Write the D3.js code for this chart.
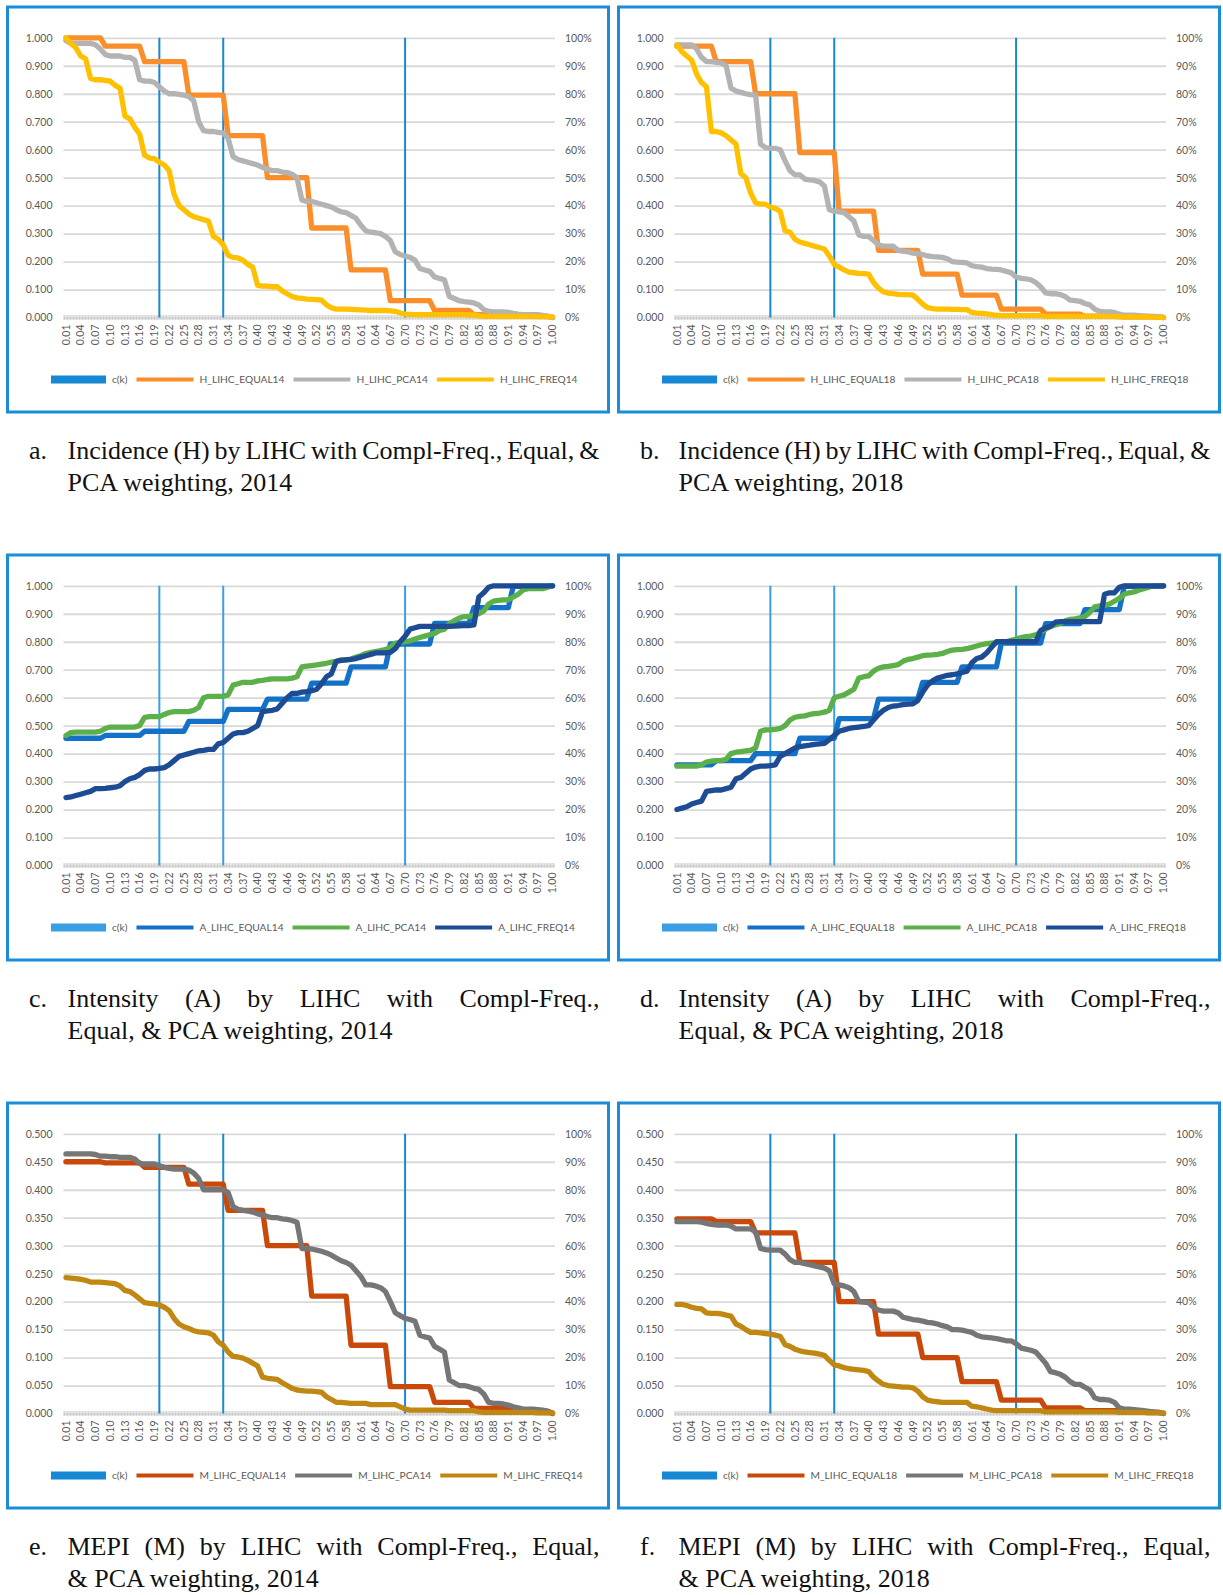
<!DOCTYPE html>
<html>
<head>
<meta charset="utf-8">
<script src="https://cdn.jsdelivr.net/npm/d3@7"></script>
<style>
  body { margin: 0; background: #fff; }
  svg { display: block; }
</style>
</head>
<body>
<script>
// categories k = 0.01 ... 1.00
const K = d3.range(1, 101).map(i => (i / 100).toFixed(2))
const ckValues = ['0.20', '0.33', '0.70']

// ---- Incidence (H) ----
const H_EQUAL14 = [1,1,1,1,1,1,1,1,0.97,0.97,
  0.97,0.97,0.97,0.97,0.97,0.97,0.915,0.915,0.915,0.915,
  0.915,0.915,0.915,0.915,0.915,0.795,0.795,0.795,0.795,0.795,
  0.795,0.795,0.795,0.65,0.65,0.65,0.65,0.65,0.65,0.65,
  0.65,0.5,0.5,0.5,0.5,0.5,0.5,0.5,0.5,0.5,
  0.32,0.32,0.32,0.32,0.32,0.32,0.32,0.32,0.17,0.17,
  0.17,0.17,0.17,0.17,0.17,0.17,0.06,0.06,0.06,0.06,
  0.06,0.06,0.06,0.06,0.06,0.025,0.025,0.025,0.025,0.025,
  0.025,0.025,0.025,0.01,0.01,0.01,0.01,0.01,0.01,0.01,
  0.01,0.004,0.004,0.004,0.004,0.004,0.004,0.004,0.004,0]
const H_PCA14 = [0.99,0.98,0.98,0.98,0.98,0.98,0.975,0.96,0.94,0.935,
  0.935,0.935,0.93,0.93,0.92,0.85,0.845,0.845,0.84,0.825,
  0.81,0.8,0.8,0.798,0.795,0.79,0.775,0.7,0.668,0.665,
  0.665,0.662,0.66,0.64,0.575,0.565,0.56,0.555,0.55,0.545,
  0.537,0.53,0.525,0.525,0.52,0.518,0.512,0.5,0.42,0.415,
  0.415,0.41,0.405,0.4,0.395,0.385,0.378,0.375,0.365,0.355,
  0.33,0.31,0.305,0.303,0.3,0.29,0.275,0.235,0.225,0.22,
  0.215,0.205,0.175,0.17,0.165,0.145,0.14,0.135,0.075,0.068,
  0.06,0.057,0.055,0.052,0.045,0.028,0.022,0.02,0.02,0.02,
  0.018,0.015,0.012,0.01,0.01,0.01,0.01,0.008,0.005,0]
const H_FREQ14 = [1,0.98,0.965,0.935,0.925,0.855,0.85,0.85,0.848,0.845,
  0.83,0.82,0.72,0.71,0.68,0.655,0.58,0.57,0.568,0.555,
  0.545,0.525,0.44,0.4,0.385,0.37,0.36,0.355,0.35,0.345,
  0.29,0.28,0.26,0.222,0.215,0.213,0.205,0.19,0.18,0.115,
  0.112,0.112,0.11,0.11,0.095,0.085,0.075,0.07,0.068,0.066,
  0.065,0.064,0.062,0.045,0.035,0.03,0.03,0.03,0.029,0.028,
  0.027,0.026,0.025,0.025,0.025,0.025,0.024,0.022,0.016,0.012,
  0.011,0.01,0.01,0.01,0.01,0.01,0.01,0.01,0.01,0.01,
  0.01,0.01,0.009,0.009,0.006,0.004,0.004,0.004,0.004,0.004,
  0.004,0.004,0.004,0.004,0.004,0.004,0.003,0.003,0.003,0.002]

const H_EQUAL18 = [0.97,0.97,0.97,0.97,0.97,0.97,0.97,0.97,0.915,0.915,
  0.915,0.915,0.915,0.915,0.915,0.915,0.8,0.8,0.8,0.8,
  0.8,0.8,0.8,0.8,0.8,0.59,0.59,0.59,0.59,0.59,
  0.59,0.59,0.59,0.38,0.38,0.38,0.38,0.38,0.38,0.38,
  0.38,0.24,0.24,0.24,0.24,0.24,0.24,0.24,0.24,0.24,
  0.155,0.155,0.155,0.155,0.155,0.155,0.155,0.155,0.08,0.08,
  0.08,0.08,0.08,0.08,0.08,0.08,0.03,0.03,0.03,0.03,
  0.03,0.03,0.03,0.03,0.03,0.012,0.012,0.012,0.012,0.012,
  0.012,0.012,0.012,0.005,0.005,0.005,0.005,0.005,0.005,0.005,
  0.005,0.002,0.002,0.002,0.002,0.002,0.002,0.002,0.002,0]
const H_PCA18 = [0.975,0.975,0.975,0.975,0.96,0.93,0.915,0.915,0.912,0.91,
  0.9,0.82,0.81,0.805,0.8,0.797,0.795,0.62,0.607,0.605,
  0.605,0.6,0.56,0.525,0.51,0.51,0.495,0.492,0.49,0.485,
  0.47,0.385,0.38,0.378,0.375,0.36,0.345,0.295,0.29,0.29,
  0.275,0.26,0.255,0.255,0.255,0.24,0.237,0.235,0.23,0.228,
  0.225,0.22,0.218,0.217,0.215,0.21,0.2,0.198,0.197,0.195,
  0.185,0.182,0.18,0.175,0.173,0.172,0.17,0.165,0.16,0.145,
  0.14,0.138,0.135,0.125,0.11,0.088,0.085,0.085,0.082,0.075,
  0.062,0.06,0.058,0.05,0.045,0.03,0.022,0.02,0.02,0.018,
  0.012,0.008,0.008,0.008,0.007,0.006,0.005,0.004,0.003,0]
const H_FREQ18 = [0.975,0.95,0.935,0.92,0.87,0.84,0.825,0.665,0.665,0.66,
  0.65,0.635,0.62,0.515,0.5,0.445,0.41,0.405,0.405,0.395,
  0.39,0.38,0.31,0.305,0.28,0.27,0.265,0.26,0.255,0.25,
  0.245,0.22,0.19,0.18,0.17,0.162,0.16,0.158,0.157,0.155,
  0.125,0.105,0.092,0.087,0.085,0.083,0.082,0.082,0.08,0.065,
  0.048,0.035,0.032,0.03,0.03,0.03,0.029,0.029,0.028,0.028,
  0.018,0.016,0.015,0.013,0.01,0.008,0.007,0.007,0.007,0.007,
  0.007,0.007,0.007,0.007,0.007,0.004,0.004,0.004,0.004,0.004,
  0.004,0.004,0.004,0.004,0.004,0.004,0.004,0.004,0.004,0.004,
  0.002,0.002,0.002,0.002,0.002,0.002,0.002,0.001,0.001,0]

// ---- Intensity (A) ----
const A_EQUAL14 = [0.455,0.455,0.455,0.455,0.455,0.455,0.455,0.455,0.465,0.465,
  0.465,0.465,0.465,0.465,0.465,0.465,0.48,0.48,0.48,0.48,
  0.48,0.48,0.48,0.48,0.48,0.515,0.515,0.515,0.515,0.515,
  0.515,0.515,0.515,0.558,0.558,0.558,0.558,0.558,0.558,0.558,
  0.558,0.595,0.595,0.595,0.595,0.595,0.595,0.595,0.595,0.595,
  0.652,0.652,0.652,0.652,0.652,0.652,0.652,0.652,0.71,0.71,
  0.71,0.71,0.71,0.71,0.71,0.71,0.792,0.792,0.792,0.792,
  0.792,0.792,0.792,0.792,0.792,0.866,0.866,0.866,0.866,0.866,
  0.866,0.866,0.866,0.922,0.922,0.922,0.922,0.922,0.922,0.922,
  0.922,0.998,0.998,0.998,0.998,0.998,0.998,0.998,0.998,1]
const A_PCA14 = [0.465,0.475,0.477,0.477,0.477,0.477,0.477,0.48,0.49,0.495,
  0.495,0.495,0.495,0.495,0.495,0.5,0.53,0.532,0.532,0.532,
  0.54,0.547,0.55,0.55,0.55,0.55,0.555,0.565,0.6,0.605,
  0.605,0.605,0.605,0.61,0.645,0.65,0.655,0.655,0.655,0.66,
  0.662,0.665,0.667,0.667,0.667,0.667,0.67,0.675,0.71,0.713,
  0.715,0.717,0.72,0.723,0.727,0.73,0.735,0.735,0.738,0.745,
  0.75,0.758,0.762,0.765,0.768,0.772,0.78,0.795,0.797,0.8,
  0.803,0.81,0.815,0.82,0.825,0.83,0.84,0.845,0.865,0.875,
  0.885,0.89,0.89,0.895,0.9,0.91,0.935,0.945,0.948,0.95,
  0.95,0.96,0.97,0.985,0.99,0.99,0.99,0.99,0.995,1]
const A_FREQ14 = [0.243,0.245,0.25,0.255,0.26,0.265,0.275,0.275,0.276,0.278,
  0.28,0.285,0.3,0.31,0.315,0.325,0.34,0.345,0.345,0.347,
  0.35,0.36,0.375,0.39,0.395,0.4,0.405,0.41,0.412,0.415,
  0.415,0.435,0.44,0.455,0.47,0.475,0.475,0.48,0.49,0.5,
  0.55,0.553,0.555,0.56,0.58,0.6,0.615,0.615,0.62,0.622,
  0.625,0.63,0.65,0.675,0.685,0.73,0.733,0.735,0.737,0.74,
  0.745,0.75,0.755,0.76,0.76,0.76,0.762,0.775,0.8,0.82,
  0.845,0.85,0.855,0.855,0.855,0.855,0.855,0.855,0.855,0.856,
  0.857,0.858,0.858,0.86,0.96,0.975,0.995,1,1,1,
  1,1,1,1,1,1,1,1,1,1]

const A_EQUAL18 = [0.36,0.36,0.36,0.36,0.36,0.36,0.36,0.36,0.375,0.375,
  0.375,0.375,0.375,0.375,0.375,0.375,0.4,0.4,0.4,0.4,
  0.4,0.4,0.4,0.4,0.4,0.455,0.455,0.455,0.455,0.455,
  0.455,0.455,0.455,0.525,0.525,0.525,0.525,0.525,0.525,0.525,
  0.525,0.595,0.595,0.595,0.595,0.595,0.595,0.595,0.595,0.595,
  0.655,0.655,0.655,0.655,0.655,0.655,0.655,0.655,0.71,0.71,
  0.71,0.71,0.71,0.71,0.71,0.71,0.795,0.795,0.795,0.795,
  0.795,0.795,0.795,0.795,0.795,0.865,0.865,0.865,0.865,0.865,
  0.865,0.865,0.865,0.915,0.915,0.915,0.915,0.915,0.915,0.915,
  0.915,0.998,0.998,0.998,0.998,0.998,0.998,0.998,0.998,1]
const A_PCA18 = [0.355,0.355,0.355,0.355,0.355,0.36,0.37,0.373,0.375,0.375,
  0.38,0.4,0.405,0.407,0.41,0.412,0.42,0.48,0.485,0.485,
  0.487,0.49,0.5,0.52,0.53,0.533,0.535,0.54,0.543,0.545,
  0.548,0.555,0.6,0.605,0.61,0.62,0.63,0.67,0.675,0.678,
  0.695,0.705,0.71,0.712,0.715,0.718,0.73,0.737,0.74,0.745,
  0.75,0.752,0.753,0.755,0.758,0.765,0.77,0.772,0.773,0.775,
  0.78,0.785,0.79,0.793,0.795,0.797,0.8,0.8,0.805,0.81,
  0.815,0.818,0.82,0.825,0.835,0.845,0.855,0.86,0.865,0.875,
  0.88,0.882,0.885,0.89,0.905,0.925,0.928,0.93,0.935,0.945,
  0.955,0.97,0.975,0.978,0.985,0.99,0.995,1,1,1]
const A_FREQ18 = [0.2,0.205,0.21,0.22,0.225,0.23,0.265,0.268,0.27,0.27,
  0.275,0.28,0.31,0.315,0.33,0.345,0.352,0.355,0.355,0.357,
  0.36,0.39,0.4,0.41,0.42,0.425,0.428,0.43,0.433,0.435,
  0.437,0.45,0.465,0.48,0.485,0.49,0.493,0.495,0.497,0.5,
  0.52,0.54,0.555,0.565,0.57,0.572,0.575,0.577,0.578,0.59,
  0.62,0.645,0.66,0.67,0.675,0.68,0.682,0.685,0.69,0.695,
  0.725,0.74,0.745,0.76,0.78,0.8,0.8,0.8,0.8,0.8,
  0.8,0.8,0.8,0.8,0.84,0.85,0.855,0.87,0.872,0.872,
  0.872,0.872,0.872,0.872,0.872,0.872,0.872,0.97,0.975,0.975,
  0.995,1,1,1,1,1,1,1,1,1]

// ---- MEPI (M) ----
const M_EQUAL14 = [0.45,0.45,0.45,0.45,0.45,0.45,0.45,0.45,0.448,0.448,
  0.448,0.448,0.448,0.448,0.448,0.448,0.44,0.44,0.44,0.44,
  0.44,0.44,0.44,0.44,0.44,0.41,0.41,0.41,0.41,0.41,
  0.41,0.41,0.41,0.363,0.363,0.363,0.363,0.363,0.363,0.363,
  0.363,0.3,0.3,0.3,0.3,0.3,0.3,0.3,0.3,0.3,
  0.21,0.21,0.21,0.21,0.21,0.21,0.21,0.21,0.122,0.122,
  0.122,0.122,0.122,0.122,0.122,0.122,0.048,0.048,0.048,0.048,
  0.048,0.048,0.048,0.048,0.048,0.02,0.02,0.02,0.02,0.02,
  0.02,0.02,0.02,0.009,0.009,0.009,0.009,0.009,0.009,0.009,
  0.009,0.004,0.004,0.004,0.004,0.004,0.004,0.004,0.004,0]
const M_PCA14 = [0.464,0.464,0.464,0.464,0.464,0.464,0.463,0.46,0.46,0.459,
  0.459,0.458,0.458,0.458,0.455,0.447,0.446,0.446,0.446,0.443,
  0.44,0.438,0.437,0.437,0.437,0.435,0.43,0.42,0.4,0.4,
  0.4,0.4,0.4,0.395,0.37,0.365,0.363,0.362,0.36,0.357,
  0.355,0.352,0.35,0.35,0.348,0.347,0.345,0.342,0.295,0.295,
  0.294,0.292,0.29,0.287,0.283,0.278,0.273,0.27,0.265,0.255,
  0.245,0.23,0.23,0.228,0.225,0.218,0.2,0.18,0.175,0.17,
  0.168,0.165,0.14,0.137,0.135,0.12,0.115,0.11,0.06,0.055,
  0.05,0.05,0.048,0.045,0.043,0.035,0.02,0.018,0.018,0.017,
  0.015,0.012,0.01,0.008,0.008,0.008,0.007,0.006,0.004,0.001]
const M_FREQ14 = [0.243,0.242,0.241,0.24,0.238,0.235,0.235,0.235,0.234,0.233,
  0.232,0.228,0.22,0.218,0.212,0.205,0.198,0.197,0.196,0.194,
  0.19,0.184,0.17,0.16,0.155,0.152,0.148,0.146,0.145,0.144,
  0.14,0.128,0.122,0.11,0.102,0.101,0.099,0.095,0.09,0.085,
  0.065,0.063,0.062,0.061,0.055,0.05,0.045,0.042,0.041,0.04,
  0.04,0.039,0.038,0.03,0.025,0.02,0.02,0.019,0.018,0.018,
  0.018,0.018,0.016,0.016,0.016,0.016,0.016,0.016,0.012,0.008,
  0.006,0.006,0.006,0.006,0.006,0.006,0.006,0.006,0.005,0.005,
  0.005,0.005,0.005,0.005,0.003,0.002,0.002,0.002,0.002,0.002,
  0.002,0.002,0.002,0.002,0.002,0.002,0.001,0.001,0.001,0.001]

const M_EQUAL18 = [0.348,0.348,0.348,0.348,0.348,0.348,0.348,0.348,0.343,0.343,
  0.343,0.343,0.343,0.343,0.343,0.343,0.323,0.323,0.323,0.323,
  0.323,0.323,0.323,0.323,0.323,0.27,0.27,0.27,0.27,0.27,
  0.27,0.27,0.27,0.2,0.2,0.2,0.2,0.2,0.2,0.2,
  0.2,0.142,0.142,0.142,0.142,0.142,0.142,0.142,0.142,0.142,
  0.1,0.1,0.1,0.1,0.1,0.1,0.1,0.1,0.057,0.057,
  0.057,0.057,0.057,0.057,0.057,0.057,0.024,0.024,0.024,0.024,
  0.024,0.024,0.024,0.024,0.024,0.01,0.01,0.01,0.01,0.01,
  0.01,0.01,0.01,0.005,0.005,0.005,0.005,0.005,0.005,0.005,
  0.005,0.002,0.002,0.002,0.002,0.002,0.002,0.002,0.002,0]
const M_PCA18 = [0.343,0.343,0.343,0.343,0.343,0.342,0.34,0.338,0.337,0.337,
  0.337,0.335,0.33,0.33,0.33,0.33,0.325,0.295,0.293,0.292,
  0.292,0.292,0.285,0.275,0.27,0.27,0.268,0.266,0.264,0.262,
  0.26,0.255,0.232,0.23,0.228,0.225,0.218,0.2,0.199,0.198,
  0.19,0.185,0.183,0.183,0.183,0.18,0.172,0.17,0.168,0.167,
  0.165,0.163,0.162,0.16,0.157,0.155,0.15,0.15,0.149,0.147,
  0.145,0.14,0.137,0.136,0.135,0.134,0.132,0.13,0.13,0.125,
  0.117,0.115,0.113,0.11,0.1,0.09,0.075,0.073,0.07,0.065,
  0.057,0.052,0.052,0.047,0.042,0.028,0.025,0.025,0.024,0.02,
  0.01,0.008,0.008,0.007,0.006,0.005,0.004,0.003,0.002,0]
const M_FREQ18 = [0.195,0.195,0.193,0.19,0.188,0.187,0.18,0.179,0.179,0.178,
  0.176,0.174,0.16,0.156,0.15,0.145,0.145,0.144,0.143,0.142,
  0.14,0.138,0.123,0.12,0.115,0.112,0.11,0.109,0.108,0.106,
  0.104,0.095,0.087,0.085,0.082,0.08,0.079,0.078,0.077,0.075,
  0.065,0.058,0.052,0.05,0.049,0.048,0.047,0.047,0.046,0.04,
  0.03,0.024,0.022,0.021,0.02,0.02,0.02,0.02,0.02,0.02,
  0.013,0.012,0.01,0.008,0.006,0.005,0.005,0.005,0.005,0.005,
  0.005,0.005,0.005,0.005,0.005,0.003,0.003,0.003,0.003,0.003,
  0.003,0.003,0.003,0.003,0.003,0.003,0.003,0.003,0.003,0.003,
  0.002,0.002,0.002,0.002,0.002,0.002,0.001,0.001,0.001,0.001]

// axis ticks
const yTicksUnit = d3.range(0, 11).map(d => d / 10)
const yTicksHalf = d3.range(0, 11).map(d => d / 20)
const y2Ticks = d3.range(0, 11).map(d => d / 10)
const xTickLabels = K.filter((d, i) => i % 3 === 0)

const colorsH = ['#f98e2b', '#b3b3b3', '#ffc000']
const colorsA = ['#1372c8', '#5cb04a', '#1d4c94']
const colorsM = ['#c9490b', '#767676', '#c08812']

const panels = [
  { bx: 7.5, by: 7, yMax: 1, ticks: yTicksUnit, series: [H_EQUAL14, H_PCA14, H_FREQ14], colors: colorsH, ck: '#1788d4',
    names: ['H_LIHC_EQUAL14', 'H_LIHC_PCA14', 'H_LIHC_FREQ14'], tag: 'a.',
    caption: ['Incidence (H) by LIHC with Compl-Freq., Equal, &', 'PCA weighting, 2014'] },
  { bx: 618.5, by: 7, yMax: 1, ticks: yTicksUnit, series: [H_EQUAL18, H_PCA18, H_FREQ18], colors: colorsH, ck: '#1788d4',
    names: ['H_LIHC_EQUAL18', 'H_LIHC_PCA18', 'H_LIHC_FREQ18'], tag: 'b.',
    caption: ['Incidence (H) by LIHC with Compl-Freq., Equal, &', 'PCA weighting, 2018'] },
  { bx: 7.5, by: 555, yMax: 1, ticks: yTicksUnit, series: [A_EQUAL14, A_PCA14, A_FREQ14], colors: colorsA, ck: '#3a9fe2',
    names: ['A_LIHC_EQUAL14', 'A_LIHC_PCA14', 'A_LIHC_FREQ14'], tag: 'c.',
    caption: ['Intensity (A) by LIHC with Compl-Freq.,', 'Equal, & PCA weighting, 2014'] },
  { bx: 618.5, by: 555, yMax: 1, ticks: yTicksUnit, series: [A_EQUAL18, A_PCA18, A_FREQ18], colors: colorsA, ck: '#3a9fe2',
    names: ['A_LIHC_EQUAL18', 'A_LIHC_PCA18', 'A_LIHC_FREQ18'], tag: 'd.',
    caption: ['Intensity (A) by LIHC with Compl-Freq.,', 'Equal, & PCA weighting, 2018'] },
  { bx: 7.5, by: 1103, yMax: 0.5, ticks: yTicksHalf, series: [M_EQUAL14, M_PCA14, M_FREQ14], colors: colorsM, ck: '#1788d4',
    names: ['M_LIHC_EQUAL14', 'M_LIHC_PCA14', 'M_LIHC_FREQ14'], tag: 'e.',
    caption: ['MEPI (M) by LIHC with Compl-Freq., Equal,', '& PCA weighting, 2014'] },
  { bx: 618.5, by: 1103, yMax: 0.5, ticks: yTicksHalf, series: [M_EQUAL18, M_PCA18, M_FREQ18], colors: colorsM, ck: '#1788d4',
    names: ['M_LIHC_EQUAL18', 'M_LIHC_PCA18', 'M_LIHC_FREQ18'], tag: 'f.',
    caption: ['MEPI (M) by LIHC with Compl-Freq., Equal,', '& PCA weighting, 2018'] }
]

const svg = d3.select('body').append('svg').attr('width', 1223).attr('height', 1595)
const tickFont = 'Lato, "Open Sans", sans-serif'
const tickSize = 10.5
const legendSize = 10.2
const textGrey = '#595959'

function drawPanel(p) {
  const boxW = 601, boxH = 405
  const left = p.bx + 56, right = p.bx + 547.5
  const top = p.by + 30.8, bottom = p.by + 310.5
  const g = svg.append('g')

  g.append('rect')
    .attr('x', p.bx).attr('y', p.by)
    .attr('width', boxW).attr('height', boxH)
    .attr('fill', '#fff')
    .attr('stroke', '#1b8cd8')
    .attr('stroke-width', 3)

  const x = d3.scaleBand().domain(K).range([left, right]).padding(0)
  const cx = k => x(k) + x.bandwidth() / 2
  const y = d3.scaleLinear().domain([0, p.yMax]).range([bottom, top])
  const y2 = d3.scaleLinear().domain([0, 1]).range([bottom, top])

  // gridlines
  const grid = g.append('g').attr('transform', `translate(${left},0)`)
    .call(d3.axisLeft(y).tickValues(p.ticks).tickSize(-(right - left)).tickFormat(''))
  grid.select('.domain').remove()
  grid.selectAll('.tick line').attr('stroke', '#d9d9d9').attr('stroke-width', 1.8)

  // left axis labels
  const yAxis = g.append('g').attr('transform', `translate(${p.bx + 48},0)`)
    .call(d3.axisLeft(y).tickValues(p.ticks).tickSize(0).tickPadding(3).tickFormat(d3.format('.3f')))
  yAxis.select('.domain').remove()
  yAxis.selectAll('.tick text')
    .attr('font-family', tickFont).attr('font-size', tickSize).style('fill', textGrey)

  // right axis labels
  const y2Axis = g.append('g').attr('transform', `translate(${p.bx + 554.5},0)`)
    .call(d3.axisRight(y2).tickValues(y2Ticks).tickSize(0).tickPadding(3).tickFormat(d3.format('.0%')))
  y2Axis.select('.domain').remove()
  y2Axis.selectAll('.tick text')
    .attr('font-family', tickFont).attr('font-size', tickSize).style('fill', textGrey)

  // x axis (rotated category labels)
  const xAxis = g.append('g').attr('transform', `translate(0,${bottom})`)
    .call(d3.axisBottom(x).tickValues(xTickLabels).tickSize(0))
  xAxis.select('.domain').remove()
  xAxis.selectAll('.tick text')
    .attr('transform', 'rotate(-90)')
    .attr('x', -7).attr('y', 0).attr('dy', '0.35em')
    .style('text-anchor', 'end')
    .attr('font-family', tickFont).attr('font-size', tickSize).style('fill', textGrey)

  // textured band on the zero line
  g.append('line')
    .attr('x1', left).attr('x2', right)
    .attr('y1', y(0)).attr('y2', y(0))
    .attr('stroke', '#d3d3d3').attr('stroke-width', 5)
    .attr('stroke-dasharray', '2,1')

  // c(k) cut-offs
  g.selectAll('.ck').data(ckValues).enter().append('line')
    .attr('class', 'ck')
    .attr('x1', d => cx(d)).attr('x2', d => cx(d))
    .attr('y1', y2(0)).attr('y2', y2(1))
    .attr('stroke', p.ck).attr('stroke-width', 2)

  // series
  const line = d3.line().x((d, i) => cx(K[i])).y(d => y(d))
  p.series.forEach((s, i) => {
    g.append('path').datum(s)
      .attr('d', line)
      .attr('fill', 'none')
      .attr('stroke', p.colors[i])
      .attr('stroke-width', 5.3)
      .attr('stroke-linejoin', 'round')
      .attr('stroke-linecap', 'round')
  })

  // legend
  const ly = p.by + 372.5
  const gLegend = g.append('g')
  let lx = p.bx + 43.5
  gLegend.append('rect').attr('x', lx).attr('y', ly - 4).attr('width', 55).attr('height', 8).attr('fill', p.ck)
  let t = gLegend.append('text').attr('x', lx + 61).attr('y', ly).attr('dy', '0.35em').text('c(k)')
    .attr('font-family', tickFont).attr('font-size', legendSize).style('fill', textGrey)
  lx = lx + 61 + t.node().getComputedTextLength() + 9
  p.names.forEach((n, i) => {
    gLegend.append('line').attr('x1', lx).attr('x2', lx + 57).attr('y1', ly).attr('y2', ly)
      .attr('stroke', p.colors[i]).attr('stroke-width', 4)
    t = gLegend.append('text').attr('x', lx + 63).attr('y', ly).attr('dy', '0.35em').text(n)
      .attr('font-family', tickFont).attr('font-size', legendSize).style('fill', textGrey)
    lx = lx + 63 + t.node().getComputedTextLength() + 9
  })

  // caption (first line justified)
  const capFont = '"Liberation Serif", "Times New Roman", serif'
  const capSize = 26
  const base = p.by + 451.5
  const textX = p.bx + 60, rightX = p.bx + 592
  g.append('text').attr('x', p.bx + 21.5).attr('y', base).text(p.tag)
    .attr('font-family', capFont).attr('font-size', capSize).style('fill', '#111')
  const words = p.caption[0].split(' ')
  const wNodes = words.map(w => g.append('text').attr('y', base).text(w)
    .attr('font-family', capFont).attr('font-size', capSize).style('fill', '#111'))
  const widths = wNodes.map(n => n.node().getComputedTextLength())
  const gap = (rightX - textX - d3.sum(widths)) / (words.length - 1)
  let wx = textX
  wNodes.forEach((n, i) => { n.attr('x', wx); wx += widths[i] + gap })
  g.append('text').attr('x', textX).attr('y', base + 32.5).text(p.caption[1])
    .attr('font-family', capFont).attr('font-size', capSize).style('fill', '#111')
}

panels.forEach(drawPanel)
</script>
</body>
</html>
